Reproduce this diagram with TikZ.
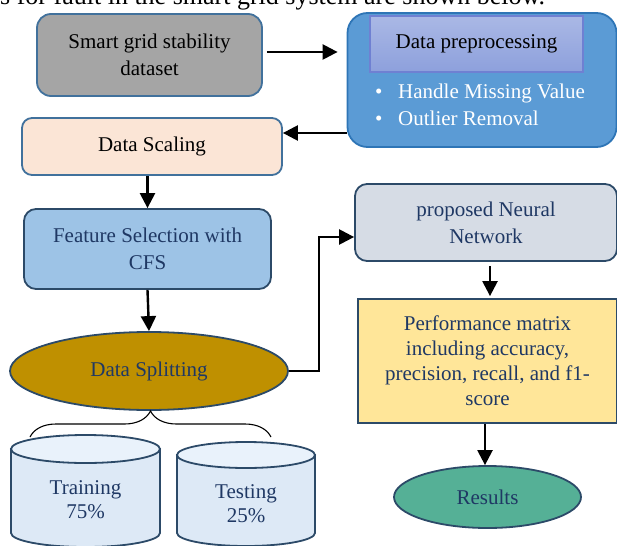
\documentclass[tikz,border=0pt]{standalone}
\usepackage{fontspec}
\setmainfont{Liberation Serif}
\usetikzlibrary{arrows.meta,shapes.geometric,decorations.pathreplacing,calc}
\definecolor{navy}{HTML}{1F3864}
\definecolor{edgeblue}{HTML}{41719C}
\definecolor{edgedark}{HTML}{2C4A68}
\definecolor{sgfill}{HTML}{A5A5A5}
\definecolor{prefill}{HTML}{5B9BD5}
\definecolor{preedge}{HTML}{2E75B6}
\definecolor{innertop}{HTML}{AAB8E5}
\definecolor{innerbot}{HTML}{8DA0DC}
\definecolor{inneredge}{HTML}{6F80D2}
\definecolor{dsfill}{HTML}{FBE5D6}
\definecolor{fsfill}{HTML}{9DC3E6}
\definecolor{splitfill}{HTML}{BF9000}
\definecolor{nnfill}{HTML}{D6DCE5}
\definecolor{perffill}{HTML}{FFE699}
\definecolor{resfill}{HTML}{55B096}
\definecolor{cylbodyc}{HTML}{DDE9F6}
\definecolor{cyltopc}{HTML}{E9F2FB}
\tikzset{
  box/.style={draw, line width=1.8pt, align=center, inner sep=2pt, font=\fontsize{21}{27}\selectfont},
  arr/.style={line width=2.4pt, -{Triangle[length=15pt,width=15pt]}},
  cylb/.style={fill=cylbodyc, draw=edgedark, line width=1.8pt},
  cylt/.style={fill=cyltopc, draw=edgedark, line width=1.8pt},
  lbl/.style={align=center, text=navy, font=\fontsize{21}{24.5}\selectfont},
}
\begin{document}
\begin{tikzpicture}[x=1pt,y=-1pt]
\useasboundingbox (0,0) rectangle (617,545);
\clip (0,0) rectangle (617,545);

% caption fragment cut at top
\node[anchor=base west, inner sep=0pt, font=\fontsize{26}{30}\selectfont] (cap) at (0,5) {s for fault in the smart grid system are shown below.};

% boxes
\node[box, fill=sgfill, draw=edgeblue, rounded corners=14pt, minimum width=225pt, minimum height=82pt] (sg) at (149.5,55) {Smart grid stability\\dataset};
\node[box, fill=prefill, draw=preedge, rounded corners=20pt, minimum width=269pt, minimum height=134pt] (pre) at (482,80) {};
\node[box, top color=innertop, bottom color=innerbot, draw=inneredge, line width=1.2pt, minimum width=213pt, minimum height=56pt] (inner) at (476.5,44) {Data preprocessing};
\node[anchor=west, inner sep=0pt, text=white, font=\fontsize{21}{25}\selectfont] (b1) at (373,93) {\makebox[25pt][l]{\hspace{2pt}•}Handle Missing Value};
\node[anchor=west, inner sep=0pt, text=white, font=\fontsize{21}{25}\selectfont] (b2) at (373,118) {\makebox[25pt][l]{\hspace{2pt}•}Outlier Removal};

\node[box, fill=dsfill, draw=edgeblue, rounded corners=10pt, minimum width=260pt, minimum height=57pt] (ds) at (152,146.5) {Data Scaling};
\node[box, fill=fsfill, draw=edgedark, text=navy, rounded corners=12pt, minimum width=247pt, minimum height=80pt] (fs) at (147.5,249) {Feature Selection with\\CFS};
\node[box, ellipse, fill=splitfill, draw=edgedark, text=navy, minimum width=278pt, minimum height=78pt, inner sep=0pt] (split) at (149,371) {Data Splitting};
\node[box, fill=nnfill, draw=edgedark, text=navy, rounded corners=12pt, minimum width=262pt, minimum height=77pt] (nn) at (486,222.5) {proposed Neural\\Network};
\node[box, fill=perffill, draw=edgedark, text=navy, minimum width=259pt, minimum height=124pt, font=\fontsize{21}{25}\selectfont] (perf) at (487.5,361) {Performance matrix\\including accuracy,\\precision, recall, and f1-\\score};
\node[box, ellipse, fill=resfill, draw=edgedark, text=navy, minimum width=187pt, minimum height=62pt, inner sep=0pt] (res) at (487.5,497) {Results};

% cylinders
\filldraw[cylb] (11,449) -- (11,533) arc[start angle=180, end angle=360, x radius=74.5pt, y radius=14pt] -- (160,449) -- cycle;
\filldraw[cylt] (85.5,449) ellipse[x radius=74.5pt, y radius=14pt];
\filldraw[cylb] (177,455) -- (177,533) arc[start angle=180, end angle=360, x radius=69pt, y radius=13pt] -- (315,455) -- cycle;
\filldraw[cylt] (246,455) ellipse[x radius=69pt, y radius=13pt];
\node[lbl] (train) at (85.5,499.5) {Training\\75\%};
\node[lbl] (test) at (246,503.5) {Testing\\25\%};

% brace
\coordinate (bl) at (30,437);
\coordinate (br) at (271,437);
\draw[line width=1.1pt, decorate, decoration={brace, amplitude=26pt}] (bl) -- (br);

% connectors
\draw[arr] ([xshift=4pt,yshift=3pt]sg.east) -- ([xshift=-9pt,yshift=3pt]pre.west |- sg.east);
\draw[arr] ([yshift=-53pt]pre.west) -- ([yshift=-53pt]pre.west -| ds.east);
\draw[arr] (fs.north |- ds.south) -- (fs.north);
\draw[arr] (fs.south) -- (split.north);
\draw[arr] (split.east) -- ++(30pt,0pt) |- ([yshift=-14.5pt]nn.west);
\draw[arr] ([xshift=4pt,yshift=-4pt]nn.south) -- ([xshift=2.5pt,yshift=2pt]perf.north);
\draw[arr] ([xshift=-2.5pt]perf.south) -- ([xshift=-2.5pt]res.north);
\end{tikzpicture}
\end{document}
